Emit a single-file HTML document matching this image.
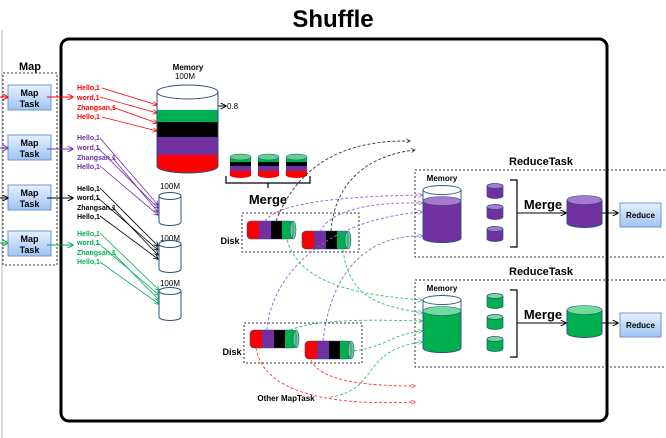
<!DOCTYPE html>
<html><head><meta charset="utf-8"><style>
html,body{margin:0;padding:0;background:#fff;}
svg{display:block;font-family:"Liberation Sans",sans-serif;}
</style></head><body>
<svg width="666" height="438" viewBox="0 0 666 438" xmlns="http://www.w3.org/2000/svg">
<defs>
<linearGradient id="bl" x1="0" y1="0" x2="0" y2="1"><stop offset="0" stop-color="#e6f0ff"/><stop offset="1" stop-color="#9fc3f2"/></linearGradient>
<marker id="ar" viewBox="0 0 10 10" refX="9" refY="5" markerWidth="6" markerHeight="6" orient="auto"><path d="M0,0 L10,5 L0,10" fill="none" stroke="context-stroke" stroke-width="1.6"/></marker>
<marker id="aR" viewBox="0 0 10 10" refX="9" refY="5" markerWidth="6" markerHeight="6" orient="auto"><path d="M0,0 L10,5 L0,10" fill="none" stroke="#f00" stroke-width="1.6"/></marker>
<marker id="aP" viewBox="0 0 10 10" refX="9" refY="5" markerWidth="6" markerHeight="6" orient="auto"><path d="M0,0 L10,5 L0,10" fill="none" stroke="#7030a0" stroke-width="1.6"/></marker>
<marker id="aK" viewBox="0 0 10 10" refX="9" refY="5" markerWidth="6" markerHeight="6" orient="auto"><path d="M0,0 L10,5 L0,10" fill="none" stroke="#000" stroke-width="1.6"/></marker>
<marker id="aG" viewBox="0 0 10 10" refX="9" refY="5" markerWidth="6" markerHeight="6" orient="auto"><path d="M0,0 L10,5 L0,10" fill="none" stroke="#00b050" stroke-width="1.6"/></marker>
<marker id="aPd" viewBox="0 0 10 10" refX="9" refY="5" markerWidth="5" markerHeight="5" orient="auto"><path d="M0,0 L10,5 L0,10" fill="none" stroke="#9a5fd0" stroke-width="1.4"/></marker>
<marker id="aGd" viewBox="0 0 10 10" refX="9" refY="5" markerWidth="5" markerHeight="5" orient="auto"><path d="M0,0 L10,5 L0,10" fill="none" stroke="#30c070" stroke-width="1.4"/></marker>
<marker id="aRd" viewBox="0 0 10 10" refX="9" refY="5" markerWidth="5" markerHeight="5" orient="auto"><path d="M0,0 L10,5 L0,10" fill="none" stroke="#f33" stroke-width="1.4"/></marker>
<marker id="aKd" viewBox="0 0 10 10" refX="9" refY="5" markerWidth="5" markerHeight="5" orient="auto"><path d="M0,0 L10,5 L0,10" fill="none" stroke="#333" stroke-width="1.4"/></marker>
</defs>

<text x="333" y="27" font-size="24" font-weight="bold" text-anchor="middle">Shuffle</text>
<line x1="2" y1="30" x2="2" y2="438" stroke="#bbb" stroke-width="1"/>

<!-- main frame -->
<rect x="61" y="39" width="546" height="382" rx="8" fill="none" stroke="#000" stroke-width="3"/>

<!-- Map column -->
<text x="30" y="70" font-size="11" font-weight="bold" text-anchor="middle">Map</text>
<rect x="3" y="73" width="54" height="192" fill="none" stroke="#333" stroke-dasharray="2,2"/>
<g font-size="9" font-weight="bold" text-anchor="middle" fill="#000">
<rect x="8" y="85" width="43" height="25" fill="url(#bl)" stroke="#6f97cf"/><text x="29.5" y="96">Map</text><text x="29.5" y="107">Task</text>
<rect x="8" y="135" width="43" height="25" fill="url(#bl)" stroke="#6f97cf"/><text x="29.5" y="146">Map</text><text x="29.5" y="157">Task</text>
<rect x="8" y="185" width="43" height="25" fill="url(#bl)" stroke="#6f97cf"/><text x="29.5" y="196">Map</text><text x="29.5" y="207">Task</text>
<rect x="8" y="231" width="43" height="25" fill="url(#bl)" stroke="#6f97cf"/><text x="29.5" y="242">Map</text><text x="29.5" y="253">Task</text>
</g>
<g stroke-width="1">
<line x1="0" y1="97" x2="8" y2="97" stroke="#f00" marker-end="url(#aR)"/>
<line x1="47" y1="97" x2="73" y2="97" stroke="#f00" marker-end="url(#aR)"/>
<line x1="0" y1="148" x2="8" y2="148" stroke="#7030a0" marker-end="url(#aP)"/>
<line x1="47" y1="149" x2="73" y2="149" stroke="#7030a0" marker-end="url(#aP)"/>
<line x1="0" y1="198" x2="8" y2="198" stroke="#000" marker-end="url(#aK)"/>
<line x1="47" y1="198" x2="73" y2="198" stroke="#000" marker-end="url(#aK)"/>
<line x1="0" y1="243" x2="8" y2="243" stroke="#00b050" marker-end="url(#aG)"/>
<line x1="47" y1="245" x2="73" y2="245" stroke="#00b050" marker-end="url(#aG)"/>
</g>

<!-- key/value text -->
<g font-size="7" font-weight="bold">
<g fill="#f00"><text x="77" y="90">Hello,1</text><text x="77" y="100">word,1</text><text x="77" y="110">Zhangsan,1</text><text x="77" y="119">Hello,1</text></g>
<g fill="#7030a0"><text x="77" y="140">Hello,1</text><text x="77" y="150">word,1</text><text x="77" y="160">Zhangsan,1</text><text x="77" y="169">Hello,1</text></g>
<g fill="#000"><text x="77" y="191">Hello,1</text><text x="77" y="200">word,1</text><text x="77" y="210">Zhangsan,1</text><text x="77" y="219">Hello,1</text></g>
<g fill="#00b050"><text x="77" y="236">Hello,1</text><text x="77" y="245">word,1</text><text x="77" y="255">Zhangsan,1</text><text x="77" y="264">Hello,1</text></g>
</g>
<g stroke-width="0.8">
<line x1="102" y1="88" x2="157" y2="105" stroke="#f00" marker-end="url(#aR)"/>
<line x1="100" y1="97" x2="157" y2="113" stroke="#f00" marker-end="url(#aR)"/>
<line x1="112" y1="107" x2="157" y2="123" stroke="#f00" marker-end="url(#aR)"/>
<line x1="102" y1="117" x2="157" y2="131" stroke="#f00" marker-end="url(#aR)"/>
<line x1="100" y1="138" x2="158" y2="205" stroke="#7030a0" marker-end="url(#aP)"/>
<line x1="98" y1="148" x2="158" y2="208" stroke="#7030a0" marker-end="url(#aP)"/>
<line x1="112" y1="157" x2="158" y2="212" stroke="#7030a0" marker-end="url(#aP)"/>
<line x1="100" y1="166" x2="158" y2="215" stroke="#7030a0" marker-end="url(#aP)"/>
<line x1="100" y1="188" x2="158" y2="246" stroke="#000" marker-end="url(#aK)"/>
<line x1="98" y1="198" x2="158" y2="250" stroke="#000" marker-end="url(#aK)"/>
<line x1="112" y1="207" x2="158" y2="255" stroke="#000" marker-end="url(#aK)"/>
<line x1="100" y1="216" x2="158" y2="259" stroke="#000" marker-end="url(#aK)"/>
<line x1="100" y1="233" x2="159" y2="290" stroke="#00b050" marker-end="url(#aG)"/>
<line x1="98" y1="243" x2="159" y2="295" stroke="#00b050" marker-end="url(#aG)"/>
<line x1="112" y1="252" x2="159" y2="300" stroke="#00b050" marker-end="url(#aG)"/>
<line x1="100" y1="262" x2="159" y2="304" stroke="#00b050" marker-end="url(#aG)"/>
</g>

<!-- Memory cylinder -->
<text x="188" y="70" font-size="8" font-weight="bold" text-anchor="middle">Memory</text>
<text x="185" y="79" font-size="8" text-anchor="middle">100M</text>
<g stroke="#2f4f7f" stroke-width="1">
<path d="M157,92 V166 A30.5,7 0 0 0 218,166 V92" fill="#fff"/>
<path d="M157,108 V122 H218 V108 A30.5,7 0 0 1 157,108 Z" fill="#00b050" stroke="none"/>
<rect x="157" y="108" width="61" height="0" />
</g>
<rect x="157" y="110" width="61" height="13" fill="#00b050"/>
<rect x="157" y="122" width="61" height="16" fill="#000"/>
<rect x="157" y="137" width="61" height="18" fill="#7030a0"/>
<path d="M157,155 H218 V166 A30.5,7 0 0 1 157,166 Z" fill="#f00"/>
<path d="M157,92 V166 A30.5,7 0 0 0 218,166 V92" fill="none" stroke="#2f4f7f"/>
<ellipse cx="187.5" cy="92" rx="30.5" ry="7" fill="#fff" stroke="#2f4f7f"/>
<line x1="218" y1="106" x2="226" y2="106" stroke="#000" marker-end="url(#aK)"/>
<text x="227" y="109" font-size="8">0.8</text>

<!-- small 100M cylinders -->
<g font-size="8" text-anchor="middle">
<text x="170" y="189">100M</text><text x="170" y="241">100M</text><text x="170" y="286">100M</text>
</g>
<g fill="#fff" stroke="#2f4f7f">
<path d="M159,196 V222 A11,3.5 0 0 0 181,222 V196"/><ellipse cx="170" cy="196" rx="11" ry="3.5"/>
<path d="M159,244 V269 A11,3.5 0 0 0 181,269 V244"/><ellipse cx="170" cy="244" rx="11" ry="3.5"/>
<path d="M159,291 V317 A11,3.5 0 0 0 181,317 V291"/><ellipse cx="170" cy="291" rx="11" ry="3.5"/>
</g>

<!-- three striped spill cylinders -->
<g id="sp">
<rect x="230" y="157" width="21" height="19" fill="#000"/>
<rect x="230" y="157" width="21" height="5" fill="#00b050"/>
<rect x="230" y="166" width="21" height="5" fill="#7030a0"/>
<path d="M230,171 H251 V175 A10.5,3 0 0 1 230,175 Z" fill="#f00"/>
<ellipse cx="240.5" cy="157" rx="10.5" ry="3" fill="#5fd38e" stroke="#2f4f7f" stroke-width="0.6"/>
</g>
<use href="#sp" x="28"/><use href="#sp" x="56"/>
<path d="M226,176 V183 H310 V176" fill="none" stroke="#000" stroke-width="1.2"/>
<line x1="268" y1="183" x2="268" y2="188" stroke="#000" stroke-width="1.2"/>
<text x="268" y="204" font-size="13" font-weight="bold" text-anchor="middle">Merge</text>

<!-- Disk boxes -->
<rect x="242" y="213" width="117" height="39" fill="none" stroke="#333" stroke-dasharray="2,2"/>
<text x="230" y="244" font-size="9" font-weight="bold" text-anchor="middle">Disk</text>
<rect x="244" y="323" width="118" height="40" fill="none" stroke="#333" stroke-dasharray="2,2"/>
<text x="232" y="355" font-size="9" font-weight="bold" text-anchor="middle">Disk</text>

<g id="hc">
<rect x="247" y="221" width="12" height="18" rx="4" fill="#f00"/>
<rect x="253" y="221" width="12" height="18" fill="#f00"/>
<rect x="259" y="221" width="12" height="18" fill="#7030a0"/>
<rect x="271" y="221" width="11" height="18" fill="#000"/>
<rect x="282" y="221" width="11" height="18" fill="#00b050"/>
<ellipse cx="293" cy="230" rx="3" ry="9" fill="#5fd38e" stroke="#2f4f7f" stroke-width="0.6"/>
<rect x="247" y="221" width="46" height="18" rx="4" fill="none" stroke="#2f4f7f" stroke-width="0.6"/>
</g>
<use href="#hc" x="55" y="10"/>
<use href="#hc" x="3" y="109"/>
<use href="#hc" x="58" y="120"/>

<text x="286" y="401" font-size="8" font-weight="bold" text-anchor="middle">Other MapTask</text>

<!-- dashed connectors -->
<g fill="none" stroke-dasharray="3,2" stroke-width="0.9">
<path d="M276,221 C300,160 350,140 410,141" stroke="#333" marker-end="url(#aKd)"/>
<path d="M331,231 C335,180 370,155 415,150" stroke="#333" marker-end="url(#aKd)"/>
<path d="M265,221 C280,200 360,196 422,195" stroke="#9a5fd0" marker-end="url(#aPd)"/>
<path d="M320,232 C330,210 370,202 422,203" stroke="#9a5fd0" marker-end="url(#aPd)"/>
<path d="M267,330 C270,280 320,220 422,212" stroke="#9a5fd0" marker-end="url(#aPd)"/>
<path d="M323,341 C330,280 360,235 422,236" stroke="#9a5fd0" marker-end="url(#aPd)"/>
<path d="M287,240 C300,285 360,295 422,300" stroke="#30c070" marker-end="url(#aGd)"/>
<path d="M343,250 C350,300 380,305 422,313" stroke="#30c070" marker-end="url(#aGd)"/>
<path d="M290,330 C320,318 380,320 422,321" stroke="#30c070" marker-end="url(#aGd)"/>
<path d="M354,351 C390,345 390,335 422,331" stroke="#30c070" marker-end="url(#aGd)"/>
<path d="M330,397 C380,390 360,350 422,342" stroke="#30c070" marker-end="url(#aGd)"/>
<path d="M256,348 C265,400 350,405 415,402" stroke="#f33" marker-end="url(#aRd)"/>
<path d="M311,360 C320,380 360,386 415,386" stroke="#f33" marker-end="url(#aRd)"/>
</g>

<!-- Reduce tasks -->
<g id="rt">
<text x="541" y="165" font-size="11" font-weight="bold" text-anchor="middle">ReduceTask</text>
<rect x="415" y="170" width="255" height="87" fill="none" stroke="#333" stroke-dasharray="2,2"/>
<text x="442" y="181" font-size="8" font-weight="bold" text-anchor="middle">Memory</text>
<path d="M423,190 V238 A19,4.5 0 0 0 461,238 V190" fill="#fff" stroke="#2f5f7f"/>
<path d="M423,201 V238 A19,4.5 0 0 0 461,238 V201" fill="#7030a0" stroke="#2f4f7f"/>
<ellipse cx="442" cy="201" rx="19" ry="4.5" fill="#a77ad0" stroke="#2f4f7f" stroke-width="0.6"/>
<ellipse cx="442" cy="190" rx="19" ry="4.5" fill="none" stroke="#2f5f7f"/>
<g stroke="#2f4f7f" stroke-width="0.7">
<path d="M487,186 V196 A8,2.5 0 0 0 503,196 V186" fill="#7030a0"/><ellipse cx="495" cy="186" rx="8" ry="2.5" fill="#a77ad0"/>
<path d="M487,207 V217 A8,2.5 0 0 0 503,217 V207" fill="#7030a0"/><ellipse cx="495" cy="207" rx="8" ry="2.5" fill="#a77ad0"/>
<path d="M487,229 V239 A8,2.5 0 0 0 503,239 V229" fill="#7030a0"/><ellipse cx="495" cy="229" rx="8" ry="2.5" fill="#a77ad0"/>
</g>
<path d="M510,180 H517 V247 H510" fill="none" stroke="#000" stroke-width="1.2"/>
<text x="543" y="209" font-size="13" font-weight="bold" text-anchor="middle">Merge</text>
<line x1="517" y1="213" x2="566" y2="213" stroke="#000" marker-end="url(#aK)"/>
<path d="M567,200 V223 A17.5,4.5 0 0 0 602,223 V200" fill="#7030a0" stroke="#2f4f7f"/>
<ellipse cx="584.5" cy="200" rx="17.5" ry="4.5" fill="#a77ad0" stroke="#2f4f7f" stroke-width="0.6"/>
<line x1="602" y1="213" x2="618" y2="213" stroke="#000" marker-end="url(#aK)"/>
<rect x="620" y="203" width="41" height="24" fill="url(#bl)" stroke="#6f97cf"/>
<text x="640.5" y="218" font-size="8" font-weight="bold" text-anchor="middle">Reduce</text>
</g>
<g transform="translate(0,110)">
<text x="541" y="165" font-size="11" font-weight="bold" text-anchor="middle">ReduceTask</text>
<rect x="415" y="170" width="255" height="87" fill="none" stroke="#333" stroke-dasharray="2,2"/>
<text x="442" y="181" font-size="8" font-weight="bold" text-anchor="middle">Memory</text>
<path d="M423,190 V238 A19,4.5 0 0 0 461,238 V190" fill="#fff" stroke="#2f5f7f"/>
<path d="M423,201 V238 A19,4.5 0 0 0 461,238 V201" fill="#00b050" stroke="#2f4f7f"/>
<ellipse cx="442" cy="201" rx="19" ry="4.5" fill="#6fdc9c" stroke="#2f4f7f" stroke-width="0.6"/>
<ellipse cx="442" cy="190" rx="19" ry="4.5" fill="none" stroke="#2f5f7f"/>
<g stroke="#2f4f7f" stroke-width="0.7">
<path d="M487,186 V196 A8,2.5 0 0 0 503,196 V186" fill="#00b050"/><ellipse cx="495" cy="186" rx="8" ry="2.5" fill="#6fdc9c"/>
<path d="M487,207 V217 A8,2.5 0 0 0 503,217 V207" fill="#00b050"/><ellipse cx="495" cy="207" rx="8" ry="2.5" fill="#6fdc9c"/>
<path d="M487,229 V239 A8,2.5 0 0 0 503,239 V229" fill="#00b050"/><ellipse cx="495" cy="229" rx="8" ry="2.5" fill="#6fdc9c"/>
</g>
<path d="M510,180 H517 V247 H510" fill="none" stroke="#000" stroke-width="1.2"/>
<text x="543" y="209" font-size="13" font-weight="bold" text-anchor="middle">Merge</text>
<line x1="517" y1="213" x2="566" y2="213" stroke="#000" marker-end="url(#aK)"/>
<path d="M567,200 V223 A17.5,4.5 0 0 0 602,223 V200" fill="#00b050" stroke="#2f4f7f"/>
<ellipse cx="584.5" cy="200" rx="17.5" ry="4.5" fill="#6fdc9c" stroke="#2f4f7f" stroke-width="0.6"/>
<line x1="602" y1="213" x2="618" y2="213" stroke="#000" marker-end="url(#aK)"/>
<rect x="620" y="203" width="41" height="24" fill="url(#bl)" stroke="#6f97cf"/>
<text x="640.5" y="218" font-size="8" font-weight="bold" text-anchor="middle">Reduce</text>
</g>
<!-- redraw frame right edge over reduce boxes -->
<line x1="607" y1="45" x2="607" y2="415" stroke="#000" stroke-width="3"/>
</svg>
</body></html>
